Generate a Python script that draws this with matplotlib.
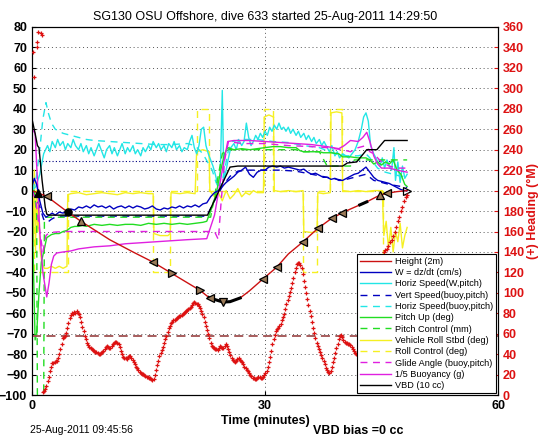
import numpy as np
import matplotlib
matplotlib.use("Agg")
import matplotlib.pyplot as plt

plt.rcParams['font.family'] = ['Liberation Sans', 'DejaVu Sans']

# ---------------- data ----------------
height_t = [0, 0.8, 1.9, 4.6, 6.3, 10, 13, 15.6, 18, 21.6, 22.8, 22.9, 24.6, 25.5, 26.8, 28, 29.8, 31.5, 33,
            34.9, 36.8, 38.6, 39.9, 41.0, 42.2, 43.1, 44.8, 45.7, 47, 48.3]
height_v = [0, -1.2, -2.8, -10.5, -15, -24, -30, -35, -40.5, -48.7, -52.3, -52.5, -54.5, -54.3, -52.5, -49, -43,
            -37.5, -31, -25, -18.5, -13.5, -11, -9, -7, -5.5, -2.2, -1.3, -0.5, 0]
height_black_ranges = [(22.8, 26.8), (42.2, 43.1)]

marker_t = [0.8, 1.9, 4.6, 6.3, 15.6, 18, 21.6, 22.9, 24.6, 29.8, 31.5, 34.9, 36.8, 38.6, 39.9, 44.8, 45.7, 48.3]
marker_v = [-1.2, -2.8, -10.5, -15, -35, -40.5, -48.7, -52.5, -54.5, -43, -37.5, -25, -18.5, -13.5, -11, -2.2, -1.3, 0]
marker_s = ['^', '<', 'o', '^', '<', '>', '>', '<', 'v', '<', '<', '<', '<', '<', '<', '^', '<', '>']

w_t = [0, 0.3, 0.6, 1.0, 1.4, 1.8, 2.2, 2.6, 3.0, 3.5, 4.0, 4.5, 5.0, 5.5, 6.0, 6.5, 7.0, 7.5, 8.0, 8.5, 9.0, 9.5,
       10, 10.5, 11, 11.5, 12, 12.5, 13, 13.5, 14, 14.5, 15, 15.5, 16, 16.5, 17, 17.5, 18, 18.5, 19, 19.5, 20, 20.5,
       21, 21.5, 22, 22.5, 23, 23.5, 24, 24.5, 25, 25.5, 26, 26.5, 27, 27.5, 28, 28.5, 29, 29.5, 30, 30.5, 31, 31.5,
       32, 32.5, 33, 33.5, 34, 34.5, 35, 35.5, 36, 36.5, 37, 37.5, 38, 38.5, 39, 39.5, 40, 40.5, 41, 41.5, 42, 42.5,
       43, 43.5, 44, 44.5, 45, 45.5, 46, 46.5, 47, 47.5, 48, 48.3]
w_v = [2, 6, 3, -5, -11, -13, -12, -11, -12, -10.5, -11, -10, -9, -9.5, -8, -8.5, -7.5, -8.5, -7, -8, -7.5, -8.5,
       -7.5, -9, -8, -7.5, -8.5, -7.5, -8.5, -7.5, -8, -9, -8.5, -7.5, -9, -9.5, -8.5, -9, -8, -8.5, -7.5, -8.5, -7.5,
       -8, -7, -8, -6.5, -6, -3, -1, 0, 2, 4, 5.5, 7, 9, 10, 11.5, 8, 6.5, 9, 10, 10, 11.5, 12, 11.5,
       12, 11, 11.5, 11, 10.5, 10, 10.5, 9, 8, 8.5, 7.5, 6.5, 6.5, 5.5, 6, 5, 5, 6, 7, 8, 8.5, 10,
       11.5, 9, 6.5, 5, 4.5, 4, 3.5, 2.5, 1.5, 0.5, 0, 0]

hs_t = [0, 0.5, 1.0, 1.5, 2.0, 2.3, 2.6, 3.0, 3.3, 3.6, 4.0, 4.3, 4.6, 5.0, 5.3, 5.6, 6.0, 6.3, 6.6, 7.0, 7.3, 7.6,
        8.0, 8.3, 8.6, 9.0, 9.3, 9.6, 10.0, 10.3, 10.6, 11.0, 11.3, 11.6, 12.0, 12.3, 12.6, 13.0, 13.3, 13.6, 14.0,
        14.3, 14.6, 15.0, 15.3, 15.6, 16.0, 16.3, 16.6, 17.0, 17.3, 17.6, 18.0, 18.3, 18.6, 19.0, 19.3, 19.6, 20.0,
        20.3, 20.6, 20.9, 21.2, 21.5, 21.8, 22.1, 22.4, 22.7, 23.0, 23.3, 23.6, 23.9, 24.2, 24.5, 24.7, 25.0, 25.3,
        25.6, 26.0, 26.3, 26.6, 27.0, 27.3, 27.6, 27.9, 28.2, 28.5, 28.8, 29.1, 29.4, 29.7, 30.0, 30.3, 30.6, 30.9,
        31.2, 31.5, 31.8, 32.1, 32.4, 32.7, 33.0, 33.3, 33.6, 34.0, 34.3, 34.6, 35.0, 35.3, 35.6, 36.0, 36.3, 36.6,
        37.0, 37.3, 37.6, 38.0, 38.3, 38.6, 39.0, 39.3, 39.6, 40.0, 40.4, 40.8, 41.2, 41.6, 42.0, 42.4, 42.7, 43.0,
        43.3, 43.6, 44.0, 44.4, 44.8, 45.1, 45.4, 45.7, 46.0, 46.3, 46.6, 46.8, 47.1, 47.4, 47.7, 48.0, 48.3]
hs_v = [0, 2, 8, 18, 22, 19, 24, 21, 25, 22, 24, 20, 23, 21, 25, 22, 20, 23, 19, 22, 18, 21,
        17, 20, 23, 19, 16, 20, 22, 18, 21, 17, 20, 23, 18, 21, 19, 22, 18, 20, 17,
        21, 19, 22, 20, 24, 21, 23, 20, 22, 19, 23, 21, 24, 20, 22, 19, 21, 20,
        24, 27, 21, 18, 22, 30, 31, 22, 18, 15, 12, 8, 3, 2, 49, 5, 10, 16,
        21, 23, 20, 25, 22, 24, 33, 26, 22, 24, 27, 25, 28, 26, 29, 27, 31, 29,
        32, 30, 33, 30, 31, 29, 31, 28, 30, 27, 29, 26, 28, 25, 27, 24, 26, 23,
        25, 22, 24, 21, 19, 22, 17, 19, 16, 18, 17, 16, 18, 20, 24, 30, 36, 38,
        34, 22, 18, 15, 12, 16, 11, 15, 12, 10, 21, 5, 14, 4, 12, 6, 8]

vsb_t = [0, 0.5, 1.0, 1.5, 2.0, 2.5, 3, 4, 6, 10, 15, 20, 22.5, 23.5, 24.5, 25.5, 26.5, 28, 30, 32, 34, 36, 38,
         40, 42, 43, 44, 46, 48.3]
vsb_v = [0, -3, -8, -14, -15.5, -14, -13, -12.5, -12.5, -12.5, -12.5, -12.5, -12.5, -5, 2, 7, 9.5, 10, 10, 10,
         9.5, 8, 6.5, 5, 7, 8, 5, 3, 1.5]

hsb_t = [0, 0.5, 1.0, 1.4, 1.8, 2.1, 2.5, 3.0, 4.0, 5.0, 6.0, 7.0, 8.0, 10, 12, 14, 16, 18, 20, 21, 22, 22.6, 23.2,
         23.7, 24.2, 24.8, 25.3, 25.8, 27, 29, 31, 33, 35, 37, 39, 40.5, 42, 43, 43.5, 44.5, 45.5, 46.5, 47.5, 48.3]
hsb_v = [0, 5, 20, 35, 43, 38, 33, 30, 28, 27, 26, 25, 24.5, 24, 23.5, 23, 22.5, 22.5, 23, 22, 18, 14, 10,
         4, 0, 10, 20, 24, 25, 25, 24, 23.5, 22, 21, 18, 17, 17, 18, 16, 11, 9, 8, 7, 7]

pitch_t = [0, 0.2, 0.4, 0.6, 0.9, 1.2, 1.5, 1.9, 2.5, 3.0, 3.5, 4.0, 4.5, 5.0, 5.5, 6.0, 6.5, 7.0, 7.5, 8.0, 9, 10,
           11, 12, 13, 14, 15, 16, 17, 18, 19, 20, 21, 22, 22.5, 23.2, 23.8, 24.3, 24.8, 25.2, 26, 27, 28, 29, 30,
           31, 32, 33, 34, 34.5, 35, 36, 37, 37.5, 38.5, 39.5, 40, 41, 42, 43, 43.5, 44, 44.5, 45, 45.5, 46, 46.5,
           47, 47.5, 48, 48.3]
pitch_v = [0, -40, -73, -70, -50, -35, -30, -23, -21.5, -21, -21, -20, -19.5, -18, -17.5, -17.5, -17, -17.5, -17,
           -16.5, -17, -16.5, -17, -16.5, -16.5, -17, -16, -16.5, -16, -16.5, -16, -16.5, -16, -15.5, -15, -8, 0,
           10, 18, 21, 20, 20.5, 20, 20.5, 21, 21.5, 21.5, 21, 21, 19.5, 19, 19, 19, 18.5, 18.5, 18, 16.5, 16.5,
           16, 16, 15, 13, 14, 12.5, 14, 13, 15, 10, 8, 3, 2]

pc_t = [0, 0.3, 0.6, 0.7, 1.5, 1.6, 22.5, 23.0, 24.5, 25, 34, 34.5, 37, 38, 41, 41.5, 48.3]
pc_v = [0, 0, -12, -105, -105, -13, -13, -13, 18, 20, 20, 19, 19, 12, 12, 15, 15]

roll_t = [0, 0.15, 0.3, 0.45, 0.6, 0.75, 0.9, 1.0, 1.3, 1.6, 2.0, 2.5, 3, 3.5, 4, 4.5,
          4.6, 5, 6, 7, 8, 9, 10, 11, 12, 13, 14, 15, 15.6,
          15.7, 16.5, 17.5, 17.8,
          17.9, 19, 20, 21,
          21.2, 22, 22.8,
          22.9, 23.5, 24, 24.5, 25, 25.5, 26, 26.5, 27, 27.5, 28, 28.5, 29, 29.8,
          29.9, 30.5, 31.1,
          31.2, 32, 33, 34, 34.9,
          35.0, 36.0, 36.7,
          36.8, 37.5, 38.4,
          38.5, 39.2, 39.9,
          40.0, 41, 42, 43, 44, 45.1,
          45.3, 45.6, 45.9, 46.2, 46.5, 46.8, 47.1, 47.4, 47.7, 48.0, 48.3]
roll_v = [5, -25, 10, -30, 0, -20, -5, -28, -36, -38, -38, -37, -38, -37, -38, -37,
          -2, -1.5, -1, -2, -1.5, -1, -1.5, -2, -1, -1.5, -1, -1.5, -1.5,
          -21, -22, -22, -21,
          -1, -1.5, -1, -1.5,
          19, 20, 19,
          0, -3, -1, -5, 0, -4, -2, 1, -3, -1, -2, 0, -1, -1,
          36, 37, 36,
          0, -0.5, 0, -0.5, 0,
          -20, -20.5, -20,
          -1, -1.5, -1,
          38, 38.5, 38,
          0, -0.5, 0, -0.5, 0, 0,
          -22, -15, -28, -18, -30, -20, -25, -16, -28, -22, -18]

rc_t = [0, 0.3, 0.3, 4.6, 4.6, 15.6, 15.6, 17.8, 17.8, 21.2, 21.2, 22.8, 22.8, 29.9, 29.9, 31.0, 31.0, 34.9, 34.9,
        36.7, 36.7, 38.4, 38.4, 39.9, 39.9, 45.2, 45.2, 48.3]
rc_v = [0, 0, -40, -40, 0, 0, -40, -40, 0, 0, 40, 40, 0, 0, 40, 40, 0, 0, -40, -40, 0, 0, 40, 40, 0, 0, -40, -40]

glide_t = [0, 0.5, 1.0, 1.4, 1.8, 2.2, 4, 10, 16, 20, 22.5, 23.5, 24.0, 24.3, 24.8, 25.3, 27, 30, 33, 36, 38, 40,
           41, 42, 43, 43.5, 44, 45, 46, 47, 48.3]
glide_v = [0, -5, -20, -30, -22, -20.5, -20, -20, -20, -20, -20, -20, -24, -8, 15, 24, 23, 23, 22, 21.5, 21, 20,
           19, 21, 22, 19, 18, 14, 12, 11, 11]

buoy_t = [0, 0.4, 0.7, 1.0, 1.4, 1.9, 2.2, 2.5, 2.8, 3.2, 4, 5, 6, 8, 10, 12, 14, 16, 18, 20, 22.5, 23.5, 24.5,
          25.2, 26, 28, 30, 32, 34, 36, 38, 39.5, 40.2, 41, 42, 42.6, 43.1, 43.5, 44, 44.5, 45, 46, 47, 48.3]
buoy_v = [30, 28, 5, -20, -40, -52, -45, -36, -32, -30.5, -30, -29.5, -28.5, -27.5, -27, -26, -25.5, -25, -24.5,
          -24, -23.5, -12, 10, 24, 24.5, 24.5, 24, 23.5, 23, 22.5, 21.5, 20.5, 22, 24.5, 24, 26, 28.5, 24, 17, 13,
          11, 11, 10, 9]

vbd_t = [0, 0.4, 0.7, 0.9, 1.3, 1.7, 1.9, 2.2, 22.6, 25.5, 26.5, 40.0, 40.6, 41.8, 43.1, 44.4, 45.4, 48.3]
vbd_v = [35, 28, 22, 21, 5, -8, -11.5, -12, -12, 11.5, 12, 12, 13.5, 14, 20, 20, 24.5, 24.5]

# heading (deg): initial readings before wrap-around
head_start_t = [0.1, 0.3, 0.6, 0.7, 0.8, 1.2, 1.35]
head_start_deg = [336, 311, 340, 345, 355, 354, 352]
# heading (deg): main record, one reading every 0.15 min from 1.4 min
head_main_t0 = 1.4
head_main_dt = 0.15
head_main_deg = [3, 4, 6, 9, 14, 18, 24, 28, 31, 31, 32, 33, 33, 36, 40, 45, 50, 56, 57, 58,
                 61, 66, 71, 75, 78, 80, 79, 81, 80, 82, 80, 79, 76, 72, 67, 63, 58, 55, 51, 49,
                 47, 46, 45, 44, 43, 42, 42, 41, 40, 40, 41, 42, 43, 45, 47, 48, 47, 46, 46, 48,
                 50, 51, 52, 52, 51, 50, 47, 43, 40, 37, 36, 36, 35, 37, 38, 38, 36, 34, 32, 30,
                 28, 27, 25, 23, 22, 21, 21, 20, 19, 18, 18, 17, 17, 16, 15, 16, 20, 25, 29, 33,
                 38, 41, 44, 47, 51, 55, 58, 62, 66, 68, 71, 72, 73, 73, 74, 75, 76, 77, 77, 78,
                 79, 80, 81, 82, 83, 84, 85, 86, 88, 90, 91, 90, 89, 89, 87, 85, 82, 79, 76, 72,
                 68, 64, 60, 56, 51, 48, 47, 46, 45, 45, 44, 46, 48, 47, 46, 46, 48, 50, 48, 45,
                 42, 39, 36, 34, 33, 32, 33, 35, 36, 34, 33, 32, 30, 28, 27, 25, 24, 22, 20, 19,
                 17, 17, 16, 16, 17, 18, 18, 17, 17, 18, 20, 22, 24, 28, 32, 37, 43, 50, 55, 59,
                 63, 65, 66, 68, 70, 73, 76, 79, 84, 89, 93, 97, 101, 105, 110, 115, 120, 124, 128, 129,
                 129, 127, 124, 118, 112, 106, 100, 94, 88, 82, 77, 72, 66, 61, 56, 51, 48, 45, 42, 39,
                 36, 33, 30, 27, 25, 23, 22, 24, 28, 32, 36, 41, 46, 50, 55, 58, 59, 57, 54, 52,
                 51, 51, 50, 50, 49, 47, 45, 43, 41, 40]
# heading (deg): end of dive
head_end_t = [42.5, 43.3, 44.2, 44.9, 45.3, 45.5, 45.7, 45.9, 46.1, 46.3, 46.5, 46.7, 46.9, 47.1, 47.3, 47.5,
              47.7, 47.9, 48.1, 48.25]
head_end_deg = [60, 90, 120, 136, 140, 142, 143, 146, 150, 152, 156, 160, 164, 170, 174, 180, 184, 190, 194, 196]
head_target_deg = 58
w_target = 14.5

# ---------------- plot ----------------
fig = plt.figure(figsize=(5.46, 4.42), dpi=100)
ax = fig.add_axes([0.0586, 0.106, 0.8535, 0.833])

RED = '#dd1111'
BLUE = '#0000c0'
CYAN = '#22e6e6'
GREEN = '#22dd22'
YELLOW = '#f5f022'
MAG = '#e020e0'

lh, = ax.plot(height_t, height_v, color='#cc1111', lw=1.0, label='Height (2m)', zorder=6)
ht = np.array(height_t); hv = np.array(height_v)
for a, b in height_black_ranges:
    m = (ht >= a) & (ht <= b)
    ax.plot(ht[m], hv[m], color='black', lw=2.2, zorder=6)
for i, (t, v, s) in enumerate(zip(marker_t, marker_v, marker_s)):
    if i == len(marker_t) - 1:
        fc = 'none'
    elif i in (0, 2):
        fc = 'black'
    else:
        fc = '#9a7a58'
    ax.plot([t], [v], marker=s, ms=5.2, mfc=fc, mec='black', mew=0.9, ls='none', zorder=7)

lw_, = ax.plot(w_t, w_v, color=BLUE, lw=1.0, label='W = dz/dt (cm/s)', zorder=5)
lhs, = ax.plot(hs_t, hs_v, color=CYAN, lw=1.0, label='Horiz Speed(W,pitch)', zorder=3)
lvsb, = ax.plot(vsb_t, vsb_v, color=BLUE, lw=1.0, ls=(0, (5, 4)), label='Vert Speed(buoy,pitch)', zorder=4)
lhsb, = ax.plot(hsb_t, hsb_v, color=CYAN, lw=1.0, ls=(0, (5, 4)), label='Horiz Speed(buoy,pitch)', zorder=3)
lp, = ax.plot(pitch_t, pitch_v, color=GREEN, lw=1.0, label='Pitch Up (deg)', zorder=4)
lpc, = ax.plot(pc_t, pc_v, color=GREEN, lw=1.0, ls=(0, (5, 4)), label='Pitch Control (mm)', zorder=4)
lr, = ax.plot(roll_t, roll_v, color=YELLOW, lw=1.0, label='Vehicle Roll Stbd (deg)', zorder=2)
lrc, = ax.plot(rc_t, rc_v, color=YELLOW, lw=1.0, ls=(0, (5, 4)), label='Roll Control (deg)', zorder=2)
lg, = ax.plot(glide_t, glide_v, color=MAG, lw=1.0, ls=(0, (5, 4)), label='Glide Angle (buoy,pitch)', zorder=4)
lb, = ax.plot(buoy_t, buoy_v, color=MAG, lw=1.0, label='1/5 Buoyancy (g)', zorder=4)
lv, = ax.plot(vbd_t, vbd_v, color='black', lw=1.0, label='VBD (10 cc)', zorder=5)
ax.axhline(w_target, xmin=0, xmax=46.5 / 60, color='#000080', lw=0.8, ls=(0, (1, 2)), zorder=1)

ax.set_xlim(0, 60)
ax.set_ylim(-100, 80)
ax.set_xticks([0, 30, 60])
ax.set_yticks(np.arange(-100, 81, 10))
ax.grid(True, color='#555555', ls=(0, (1, 3)), lw=0.7)
ax.tick_params(direction='in', labelsize=9, length=3)
for lab in ax.get_xticklabels() + ax.get_yticklabels():
    lab.set_fontweight('bold')
ax.set_xlabel('Time (minutes)', fontsize=9, fontweight='bold', labelpad=2)
ax.set_title('SG130 OSU Offshore, dive 633 started 25-Aug-2011 14:29:50', fontsize=9, pad=5)

ax2 = ax.twinx()
ax2.set_ylim(0, 360)
ax2.set_yticks(np.arange(0, 361, 20))
main_t = [head_main_t0 + head_main_dt * k for k in range(len(head_main_deg))]
all_t = head_start_t + main_t + head_end_t
all_deg = head_start_deg + head_main_deg + head_end_deg
ax2.plot(all_t, all_deg, ls='none', marker='+', ms=3.5, mew=0.9, color=RED, zorder=3)
ax2.axhline(head_target_deg, color='#a05050', lw=1.3, ls=(0, (5, 3)), zorder=2)
ax2.tick_params(direction='in', labelsize=9, length=3, colors=RED)
ax2.spines['right'].set_color('black')
for lab in ax2.get_yticklabels():
    lab.set_fontweight('bold')
ax2.set_ylabel('(+) Heading (°M)', color=RED, fontsize=9, fontweight='bold', labelpad=2)

handles = [lh, lw_, lhs, lvsb, lhsb, lp, lpc, lr, lrc, lg, lb, lv]
leg = ax2.legend(handles=handles, loc='lower right', fontsize=6.6, handlelength=3.4, labelspacing=0.25,
                 borderpad=0.3, handletextpad=0.4, borderaxespad=0.25, fancybox=False, framealpha=1,
                 edgecolor='black')
leg.get_frame().set_linewidth(0.8)
leg.set_zorder(20)

fig.text(0.055, 0.02, '25-Aug-2011 09:45:56', fontsize=7.5)
fig.text(0.573, 0.018, 'VBD bias =0 cc', fontsize=9, fontweight='bold')

fig.savefig('out.png', dpi=100)
